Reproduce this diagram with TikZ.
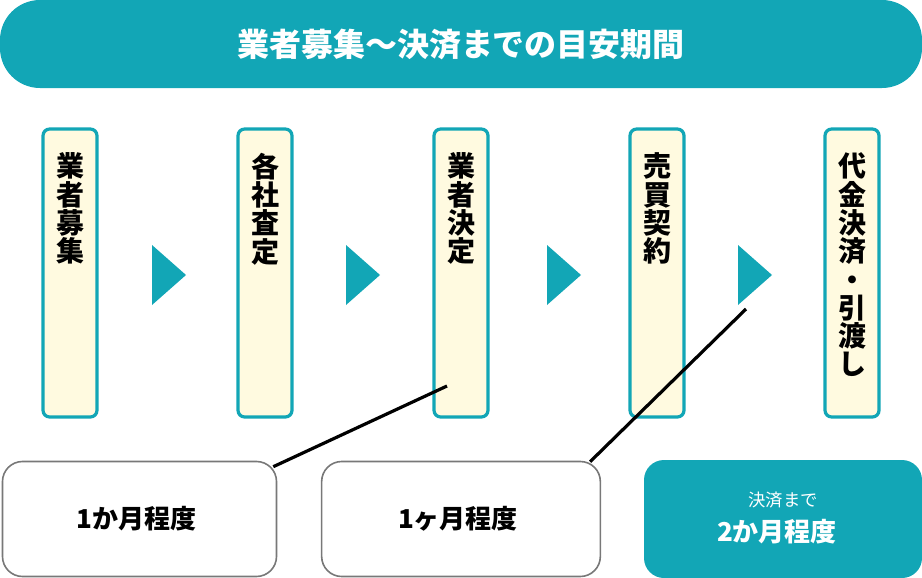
\documentclass[tikz,border=0pt]{standalone}
\usepackage{fontspec}
\setmainfont{Noto Sans CJK JP}
\usetikzlibrary{positioning}

\definecolor{schedteal}{RGB}{18,166,182}
\definecolor{schedcream}{RGB}{255,250,224}
\definecolor{schedgray}{RGB}{120,120,120}

\tikzset{
  titlebar/.style ={fill=schedteal, rounded corners=30pt, minimum width=691.5pt, minimum height=66pt, inner sep=0pt},
  stepbox/.style  ={draw=schedteal, fill=schedcream, line width=2.4pt, rounded corners=5pt, minimum width=40.5pt, minimum height=216pt, inner sep=0pt},
  steptext/.style ={anchor=north, align=center, inner sep=0pt, font=\bfseries\fontsize{21}{21.2}\selectfont},
  gapbox/.style   ={draw=schedgray, fill=white, line width=1.2pt, rounded corners=15pt, minimum height=86.25pt, inner sep=0pt},
  totalbox/.style ={fill=schedteal, rounded corners=15pt, minimum width=208.5pt, minimum height=88.5pt, inner sep=0pt},
  gaptext/.style  ={inner sep=0pt, font=\bfseries\fontsize{19.5}{22}\selectfont},
  pointer/.style  ={line width=2.4pt, black},
  arrowhead/.style={fill=schedteal}
}

\begin{document}
\begin{tikzpicture}[x=0.75pt, y=-0.75pt]
  \useasboundingbox (0,0) rectangle (922,578);

  % title
  \node[titlebar] (title) at (461,44) {};
  \node[text=white, font=\bfseries\fontsize{24}{24}\selectfont] (titletext) at (title.center) {業者募集〜決済までの目安期間};

  % steps
  \node[stepbox] (s1) at (70,273) {};
  \node[stepbox] (s2) at (265,273) {};
  \node[stepbox] (s3) at (461,273) {};
  \node[stepbox] (s4) at (657,273) {};
  \node[stepbox] (s5) at (852,273) {};

  \node[steptext] (t1) at ([yshift=-19pt]s1.north) {業\\者\\募\\集};
  \node[steptext] (t2) at ([yshift=-19pt]s2.north) {各\\社\\査\\定};
  \node[steptext] (t3) at ([yshift=-19pt]s3.north) {業\\者\\決\\定};
  \node[steptext] (t4) at ([yshift=-19pt]s4.north) {売\\買\\契\\約};
  \node[steptext] (t5) at ([yshift=-19pt]s5.north) {代\\金\\決\\済\\・\\引\\渡\\し};

  % arrows between steps
  \foreach \x in {169,363,564,755}
    \fill[arrowhead] (\x-17,245) -- (\x+17,275) -- (\x-17,305) -- cycle;

  % pointers
  \coordinate (m3) at (447,386);
  \coordinate (m4) at (746,309);

  % durations
  \node[gapbox, minimum width=205.5pt] (ga) at (139.5,519) {};
  \node[gapbox, minimum width=209pt] (gb) at (461,519) {};
  \node[totalbox] (gc) at (783,519) {};

  \coordinate (ea) at ([shift={(-4,6)}]ga.north east);
  \coordinate (eb) at ([shift={(-11,1)}]gb.north east);
  \draw[pointer] (m3) -- (ea);
  \draw[pointer] (m4) -- (eb);

  \node[gaptext] (la) at ([shift={(-3,0)}]ga.center) {1か月程度};
  \node[gaptext] (lb) at ([shift={(-3,0)}]gb.center) {1ヶ月程度};
  \node[inner sep=0pt, text=white, font=\fontsize{13}{15}\selectfont] (lc1) at ([shift={(0,-19)}]gc.center) {決済まで};
  \node[gaptext, text=white] (lc2) at ([shift={(-6,13)}]gc.center) {2か月程度};
\end{tikzpicture}
\end{document}
